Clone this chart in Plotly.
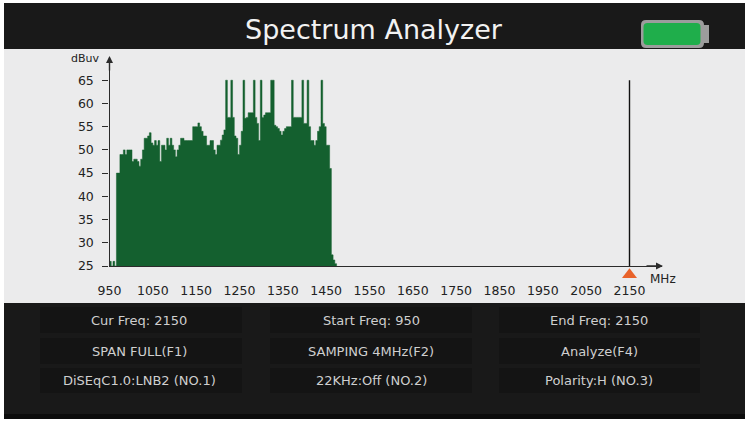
import plotly.graph_objs as go

W, H = 749, 423

# Spectrum samples, one every 4 MHz starting at 950
start_freq = 950
step = 4
levels = [
    26, 25, 26, 25, 45, 45, 49, 49, 50, 49,
    50, 50, 50, 47.5, 48, 48, 47.5, 46.5, 48, 50,
    52.5, 52.5, 53, 53.7, 51.5, 51, 52, 51, 52, 47.5,
    51, 51, 50, 52.5, 51, 52.5, 51, 50, 48.5, 50,
    51, 52.5, 52.5, 52, 52, 52, 52, 52, 55, 55,
    55, 55.8, 55, 54, 53, 53, 51, 51, 52, 52,
    50, 49, 51, 51, 52.1, 53.2, 54.3, 65, 57, 57,
    65, 57, 53, 52.5, 49, 51, 54, 65, 56.8, 57,
    58, 58, 58, 65, 57, 55.7, 52, 65, 57, 57.5,
    58, 58, 58, 65, 65, 55.3, 55, 54.6, 54, 53.2,
    54, 54.6, 55, 55, 55, 65, 57, 57, 57, 57,
    57, 65, 55.7, 55.7, 65, 55, 52, 52, 51, 52,
    54, 55, 65, 55.7, 55, 51, 51, 46, 27.4, 26.3,
    25.5, 25,
]
freqs = [start_freq + step * i for i in range(len(levels))]

x_ticks = [950, 1050, 1150, 1250, 1350, 1450, 1550, 1650, 1750, 1850, 1950, 2050, 2150]
y_ticks = [25, 30, 35, 40, 45, 50, 55, 60, 65]

cursor_freq = [2150, 2150]
cursor_level = [25, 65]
marker_freq = [2150]
marker_level = [23.1]

title = "Spectrum Analyzer"
info_rows = [
    ["Cur Freq: 2150", "Start Freq: 950", "End Freq: 2150"],
    ["SPAN FULL(F1)", "SAMPING 4MHz(F2)", "Analyze(F4)"],
    ["DiSEqC1.0:LNB2 (NO.1)", "22KHz:Off (NO.2)", "Polarity:H (NO.3)"],
]


def px(x):
    return x / W


def py(y):
    return 1 - y / H


def box(x0, y0, x1, y1, color):
    return dict(type="rect", xref="paper", yref="paper", layer="below",
                x0=px(x0), x1=px(x1), y0=py(y1), y1=py(y0),
                fillcolor=color, line_width=0)


def rounded(x0, y0, x1, y1, r, color):
    # battery body, paper coordinates so it needs a path
    pts = "M %f,%f L %f,%f Q %f,%f %f,%f L %f,%f Q %f,%f %f,%f L %f,%f Q %f,%f %f,%f L %f,%f Q %f,%f %f,%f Z" % (
        px(x0 + r), py(y0), px(x1 - r), py(y0), px(x1), py(y0), px(x1), py(y0 + r),
        px(x1), py(y1 - r), px(x1), py(y1), px(x1 - r), py(y1),
        px(x0 + r), py(y1), px(x0), py(y1), px(x0), py(y1 - r),
        px(x0), py(y0 + r), px(x0), py(y0), px(x0 + r), py(y0))
    return dict(type="path", xref="paper", yref="paper", path=pts,
                fillcolor=color, line_width=0, layer="below")


def label(text, x, y, size, color):
    return dict(text=text, x=px(x), y=py(y), xref="paper", yref="paper", showarrow=False,
                xanchor="center", yanchor="middle",
                font=dict(family="DejaVu Sans", size=size, color=color))


shapes = [
    box(4, 3, 745, 417, "#191919"),
    box(4, 49, 745, 303, "#ebebec"),
    box(4, 414, 745, 419, "#0c0c0c"),
    box(703, 25, 709, 43, "#9c9c9c"),
    rounded(641, 20, 704, 48, 5, "#9c9c9c"),
    rounded(643.5, 23, 700.5, 45, 4, "#1fae4b"),
]

annotations = [
    label(title, 374, 30, 27, "#f2f2f2"),
    label("dBuv", 85, 59, 11, "#222222"),
    label("MHz", 663, 279, 12, "#222222"),
    # axis arrow heads
    dict(x=px(109.5), y=py(56), xref="paper", yref="paper", ax=0, ay=16,
         text="", arrowhead=2, arrowsize=1, arrowwidth=1.4,
         arrowcolor="#2b2b2b", showarrow=True),
    dict(x=px(663), y=py(266), xref="paper", yref="paper", ax=-18, ay=0,
         text="", arrowhead=2, arrowsize=1, arrowwidth=1.4,
         arrowcolor="#2b2b2b", showarrow=True),
]

col_boxes = [(40, 242), (270, 472), (499, 700)]
col_centers = [139, 371, 599]
row_boxes = [(307, 333), (338, 364), (368, 393)]
row_centers = [320, 351, 380]

for r, row in enumerate(info_rows):
    for c, text in enumerate(row):
        shapes.append(box(col_boxes[c][0], row_boxes[r][0], col_boxes[c][1], row_boxes[r][1], "#141414"))
        annotations.append(label(text, col_centers[c], row_centers[r], 13, "#cfcfcf"))

# stepped fill instead of bars, bars leave seams at this width
spectrum = go.Scatter(x=freqs, y=levels, mode="lines", fill="tozeroy", fillcolor="#14602f",
                      line=dict(color="#14602f", width=0.5, shape="hv"), hoverinfo="skip")

cursor = go.Scatter(x=cursor_freq, y=cursor_level, mode="lines",
                    line=dict(color="#111111", width=1.4), hoverinfo="skip")

# the cursor triangle sits under the axis, so it gets its own taller hidden y axis
cursor_mark = go.Scatter(x=marker_freq, y=marker_level, yaxis="y2", mode="markers",
                         marker=dict(symbol="triangle-up", size=13, color="#e8622a"),
                         hoverinfo="skip")

layout = go.Layout(
    width=W, height=H,
    margin={'l': 0, 'r': 0, 'b': 0, 't': 0, 'autoexpand': False},
    paper_bgcolor="#ffffff",
    plot_bgcolor="rgba(0,0,0,0)",
    showlegend=False,
    shapes=shapes,
    annotations=annotations,
    font=dict(family="DejaVu Sans", size=12.5, color="#222222"),
    xaxis=dict(domain=[px(109.5), px(662)], range=[950, 2225], tickvals=x_ticks,
               ticktext=[str(v) for v in x_ticks],
               ticks="outside", ticklen=13, tickcolor="rgba(0,0,0,0)",
               showgrid=False, zeroline=False, showline=True, linecolor="#2b2b2b", linewidth=1.4),
    yaxis=dict(domain=[py(266), py(57)], range=[25, 70], tickvals=y_ticks,
               ticktext=[str(v) for v in y_ticks],
               ticks="outside", ticklen=6, tickcolor="#2b2b2b", tickwidth=1.2,
               ticklabelstandoff=6,
               showgrid=False, zeroline=False, showline=True, linecolor="#2b2b2b", linewidth=1.4),
    yaxis2=dict(domain=[py(282), py(57)], range=[21.56, 70], visible=False),
)

fig = go.Figure(data=[spectrum, cursor, cursor_mark], layout=layout)
# the page's default body margin would push the fixed-size figure off the window
fig.write_html("out.html", config={'displayModeBar': False},
               post_script="document.body.style.margin = '0';")
